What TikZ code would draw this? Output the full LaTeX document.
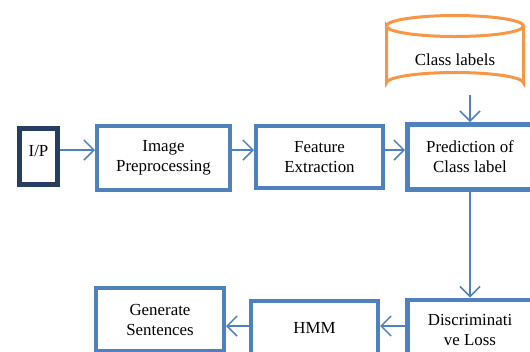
\documentclass[tikz,border=0pt]{standalone}
\usepackage{fontspec}
\setmainfont{Liberation Serif}
\usepackage{xcolor}
\definecolor{boxblue}{HTML}{4F81BD}
\definecolor{ipnavy}{HTML}{243F60}
\definecolor{dborange}{HTML}{F79646}
\usepackage{tikz}
\usetikzlibrary{arrows.meta}

\tikzset{
  stage/.style={draw=boxblue, line width=2.83pt, align=center, inner sep=2pt,
    font=\fontsize{12}{14.2}\selectfont},
  flow/.style={draw=boxblue, line width=1.1pt, -{Straight Barb[length=2.5mm, width=5mm]}}
}

\begin{document}
\begin{tikzpicture}[x=0.025cm, y=-0.025cm]
  \clip (0,0) rectangle (530,351);
  % Rows for the arrows
  \coordinate (row1) at (0,150);
  \coordinate (row2) at (0,326);

  % Top row of stages
  \node[stage, draw=ipnavy, line width=3.54pt, minimum width=0.95cm,
    minimum height=1.4cm, text depth=0.3cm] (ip) at (38.5,156.5) {I/P};
  \node[stage, minimum width=3.325cm, minimum height=1.6cm] (prep) at (163.5,158)
    {Image\\Preprocessing};
  \node[stage, minimum width=3.175cm, minimum height=1.55cm] (feat) at (319.5,157)
    {Feature\\Extraction};
  \node[stage, line width=3.54pt, minimum width=3.125cm, minimum height=1.625cm]
    (pred) at (470,157) {Prediction of\\Class label};

  % Class label store
  \draw[dborange, line width=2.13pt]
    (386.5,26) arc[start angle=180, end angle=360, x radius=68.5, y radius=10.5]
    arc[start angle=0, end angle=180, x radius=68.5, y radius=10.5]
    -- (386.5,83) arc[start angle=180, end angle=360, x radius=68.5, y radius=10.5]
    -- (523.5,26);
  \node[font=\fontsize{12}{14.2}\selectfont] (cls) at (455,60) {Class labels};
  \coordinate (clsbot) at (470,95);

  % Bottom row of stages
  \node[stage, line width=3.54pt, minimum width=3.125cm, minimum height=1.5cm]
    (disc) at (470,330) {Discriminati\\ve Loss};
  \node[stage, minimum width=3.175cm, minimum height=1.35cm] (hmm) at (314.5,328)
    {HMM};
  \node[stage, minimum width=3.2cm, minimum height=1.575cm] (gen) at (160,319.5)
    {Generate\\Sentences};

  % Arrows
  \draw[flow] (ip.east |- row1) -- (prep.west |- row1);
  \draw[flow] (prep.east |- row1) -- (feat.west |- row1);
  \draw[flow] (feat.east |- row1) -- (pred.west |- row1);
  \draw[flow] (clsbot) -- (pred.north);
  \draw[flow] (pred.south) -- (disc.north);
  \draw[flow] (disc.west |- row2) -- (hmm.east |- row2);
  \draw[flow] (hmm.west |- row2) -- (gen.east |- row2);
\end{tikzpicture}
\end{document}
